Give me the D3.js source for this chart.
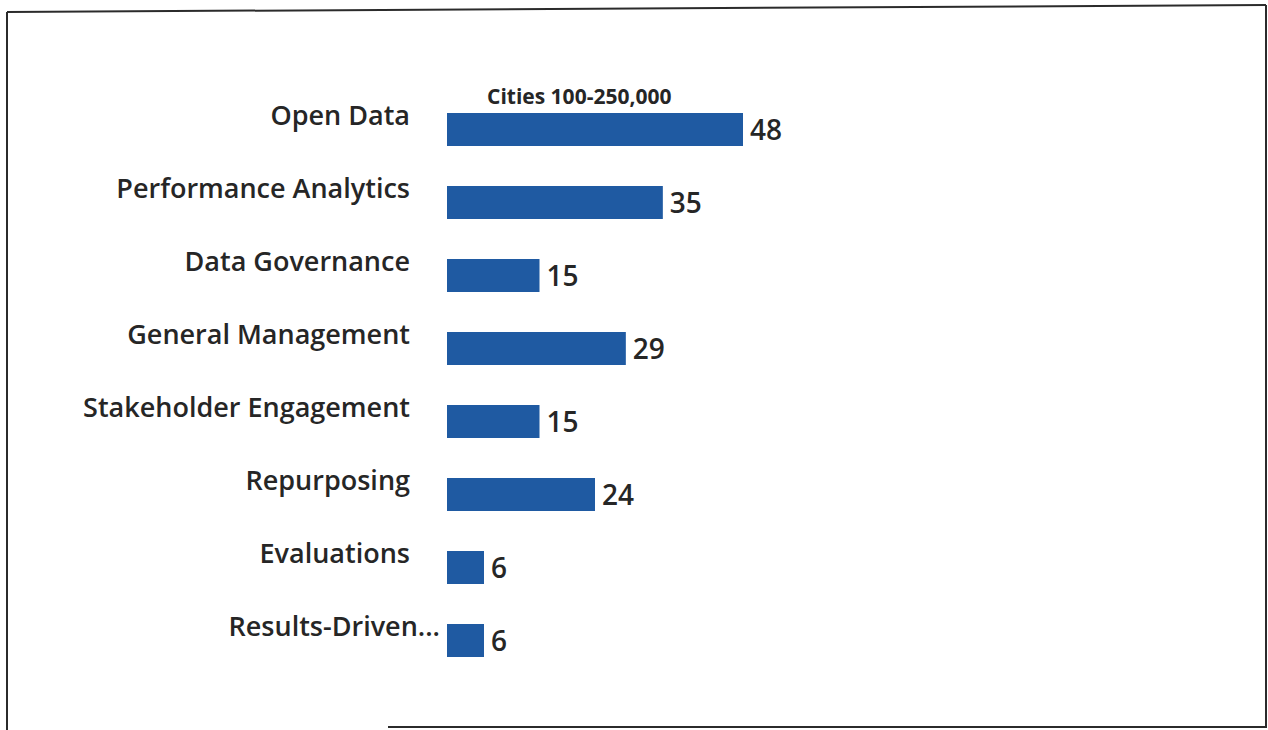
<!DOCTYPE html>
<html>
<head>
<meta charset="utf-8">
<script src="https://cdn.jsdelivr.net/npm/d3@7"></script>
<style>
    body { margin: 0; background: #fff; }
    svg text { font-family: "Open Sans", sans-serif; font-weight: 600; fill: #262626; }
</style>
</head>
<body>
<div id="chart"></div>
<script>
// Chart data
const categories = ["Open Data", "Performance Analytics", "Data Governance", "General Management",
    "Stakeholder Engagement", "Repurposing", "Evaluations", "Results-Driven..."];
const counts = [48, 35, 15, 29, 15, 24, 6, 6];
const seriesTitle = "Cities 100-250,000";

const width = 1268;
const height = 730;
const barColor = "#1f5aa2";

const svg = d3.select("#chart")
    .append("svg")
    .attr("width", width)
    .attr("height", height);

// Scanned page frame (top edge slightly tilted, bottom edge partial)
const frame = svg.append("g")
    .attr("stroke", "#2b2b2b")
    .attr("stroke-width", 2)
    .attr("fill", "none");
frame.append("line").attr("x1", 7).attr("y1", 12).attr("x2", 1266).attr("y2", 5);
frame.append("line").attr("x1", 7).attr("y1", 12).attr("x2", 7).attr("y2", 730);
frame.append("line").attr("x1", 1266).attr("y1", 5).attr("x2", 1266).attr("y2", 728);
frame.append("line").attr("x1", 388).attr("y1", 727).attr("x2", 1266).attr("y2", 727);

// Scales
const xScale = d3.scaleLinear()
    .domain([0, 48])
    .range([447, 743]);

const yScale = d3.scaleBand()
    .domain(categories)
    .range([93, 677])
    .paddingInner(0.548)
    .paddingOuter(0.274);

// Bars
svg.selectAll(".bar")
    .data(categories)
    .enter()
    .append("rect")
    .attr("class", "bar")
    .attr("x", xScale(0))
    .attr("y", d => yScale(d))
    .attr("width", (d, i) => xScale(counts[i]) - xScale(0))
    .attr("height", yScale.bandwidth())
    .attr("fill", barColor);

// Category labels (the truncated one overflows past the label column)
svg.selectAll(".cat-label")
    .data(categories)
    .enter()
    .append("text")
    .attr("class", "cat-label")
    .attr("x", d => d.endsWith("...") ? 440 : 410)
    .attr("y", d => yScale(d) + 12)
    .attr("text-anchor", "end")
    .style("font-size", "27px")
    .text(d => d);

// Value labels
svg.selectAll(".val-label")
    .data(categories)
    .enter()
    .append("text")
    .attr("class", "val-label")
    .attr("x", (d, i) => xScale(counts[i]) + 7)
    .attr("y", d => yScale(d) + 27)
    .style("font-size", "28px")
    .text((d, i) => counts[i]);

// Series title
svg.append("text")
    .attr("x", 487)
    .attr("y", 104)
    .style("font-size", "21px")
    .style("font-weight", 700)
    .text(seriesTitle);
</script>
</body>
</html>
